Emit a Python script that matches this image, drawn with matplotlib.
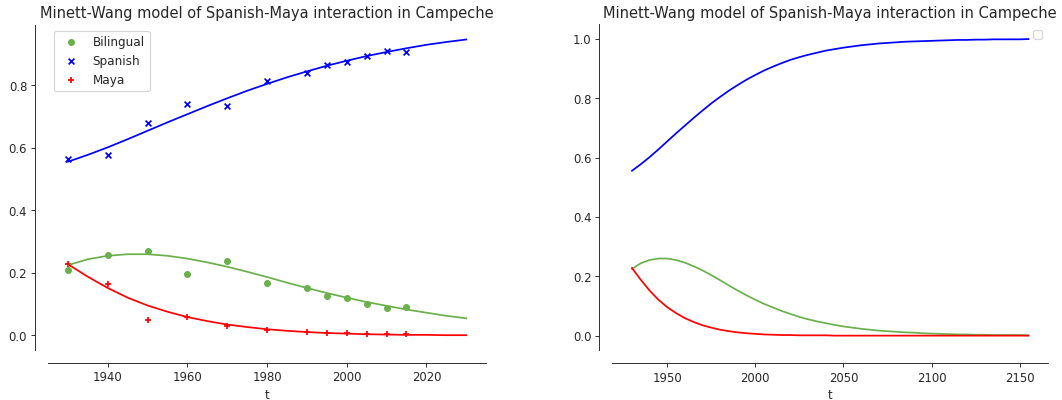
import numpy as np
import matplotlib
matplotlib.use("Agg")
import matplotlib.pyplot as plt

# Données observées (recensements)
annees_obs = [1930, 1940, 1950, 1960, 1970, 1980, 1990, 1995, 2000, 2005, 2010, 2015]
bilingue_obs = [0.211, 0.256, 0.269, 0.197, 0.237, 0.169, 0.152, 0.126, 0.121, 0.102, 0.088, 0.091]
espagnol_obs = [0.565, 0.578, 0.680, 0.742, 0.734, 0.813, 0.839, 0.864, 0.874, 0.895, 0.909, 0.906]
maya_obs = [0.228, 0.165, 0.051, 0.060, 0.030, 0.018, 0.011, 0.009, 0.008, 0.005, 0.004, 0.004]

# Courbes du modele, lues tous les 5 ans de 1930 a 2155
annees_mod = list(range(1930, 2160, 5))
espagnol_mod = [0.556, 0.578, 0.602, 0.628, 0.655, 0.682, 0.708, 0.734, 0.759, 0.783,
                0.805, 0.826, 0.845, 0.863, 0.879, 0.894, 0.907, 0.919, 0.930, 0.939,
                0.947, 0.954, 0.961, 0.966, 0.971, 0.975, 0.979, 0.982, 0.985, 0.987,
                0.989, 0.991, 0.992, 0.993, 0.994, 0.995, 0.996, 0.997, 0.997, 0.998,
                0.998, 0.999, 0.999, 0.999, 0.999, 1.000]
bilingue_mod = [0.225, 0.244, 0.255, 0.260, 0.260, 0.255, 0.246, 0.234, 0.220, 0.204,
                0.187, 0.169, 0.152, 0.136, 0.121, 0.107, 0.095, 0.083, 0.073, 0.063,
                0.055, 0.048, 0.042, 0.036, 0.031, 0.027, 0.023, 0.020, 0.017, 0.015,
                0.013, 0.011, 0.010, 0.008, 0.007, 0.006, 0.005, 0.004, 0.004, 0.003,
                0.003, 0.002, 0.002, 0.002, 0.002, 0.001]
maya_mod = [0.228, 0.188, 0.152, 0.121, 0.096, 0.076, 0.059, 0.046, 0.035, 0.027,
            0.020, 0.015, 0.011, 0.008, 0.006, 0.004, 0.003, 0.002, 0.002, 0.001,
            0.001, 0.001, 0.001, 0.000, 0.000, 0.000, 0.000, 0.000, 0.000, 0.000,
            0.000, 0.000, 0.000, 0.000, 0.000, 0.000, 0.000, 0.000, 0.000, 0.000,
            0.000, 0.000, 0.000, 0.000, 0.000, 0.000]

fin_gauche = 2030
titre = "Minett-Wang model of Spanish-Maya interaction in Campeche"

VERT = "#6ab04c"
BLEU = "#0000ff"
ROUGE = "#ff0000"
GRIS = "#262626"

DPI = 83.5

plt.rcParams["text.color"] = GRIS
plt.rcParams["axes.labelcolor"] = GRIS
plt.rcParams["xtick.color"] = GRIS
plt.rcParams["ytick.color"] = GRIS
plt.rcParams["axes.edgecolor"] = GRIS


def style_axes(ax):
    # spines decalees a la facon de sns.despine(offset=...)
    ax.spines["top"].set_visible(False)
    ax.spines["right"].set_visible(False)
    ax.spines["left"].set_position(("outward", 11))
    ax.spines["bottom"].set_position(("outward", 11))
    ax.set_xlabel("t")
    ax.set_title(titre, fontsize=12.6)


fig = plt.figure(figsize=(1062.3 / DPI, 400.3 / DPI), dpi=DPI)
ax1 = fig.add_axes([48 / 1062, 50 / 400, 438 / 1062, 325 / 400])
ax2 = fig.add_axes([612 / 1062, 49.5 / 400, 436 / 1062, 326 / 400])

t = np.array(annees_mod)
m = t <= fin_gauche

# panneau gauche : modele + observations
ax1.plot(t[m], np.array(bilingue_mod)[m], color=VERT)
ax1.plot(t[m], np.array(espagnol_mod)[m], color=BLEU)
ax1.plot(t[m], np.array(maya_mod)[m], color=ROUGE)
ax1.scatter(annees_obs, bilingue_obs, color=VERT, marker="o", s=25, label="Bilingual")
ax1.scatter(annees_obs, espagnol_obs, color=BLEU, marker="x", s=25, label="Spanish")
ax1.scatter(annees_obs, maya_obs, color=ROUGE, marker="+", s=25, label="Maya")
ax1.set_xticks([1940, 1960, 1980, 2000, 2020])
ax1.set_yticks([0.0, 0.2, 0.4, 0.6, 0.8])
ax1.legend(loc="upper left", fontsize=10.4)
style_axes(ax1)

# panneau droit : projection a long terme
ax2.plot(t, bilingue_mod, color=VERT)
ax2.plot(t, espagnol_mod, color=BLEU)
ax2.plot(t, maya_mod, color=ROUGE)
ax2.set_xticks([1950, 2000, 2050, 2100, 2150])
ax2.set_yticks([0.0, 0.2, 0.4, 0.6, 0.8, 1.0])
ax2.legend(handles=[], loc="upper right")
style_axes(ax2)

fig.savefig("out.png", dpi=DPI)
